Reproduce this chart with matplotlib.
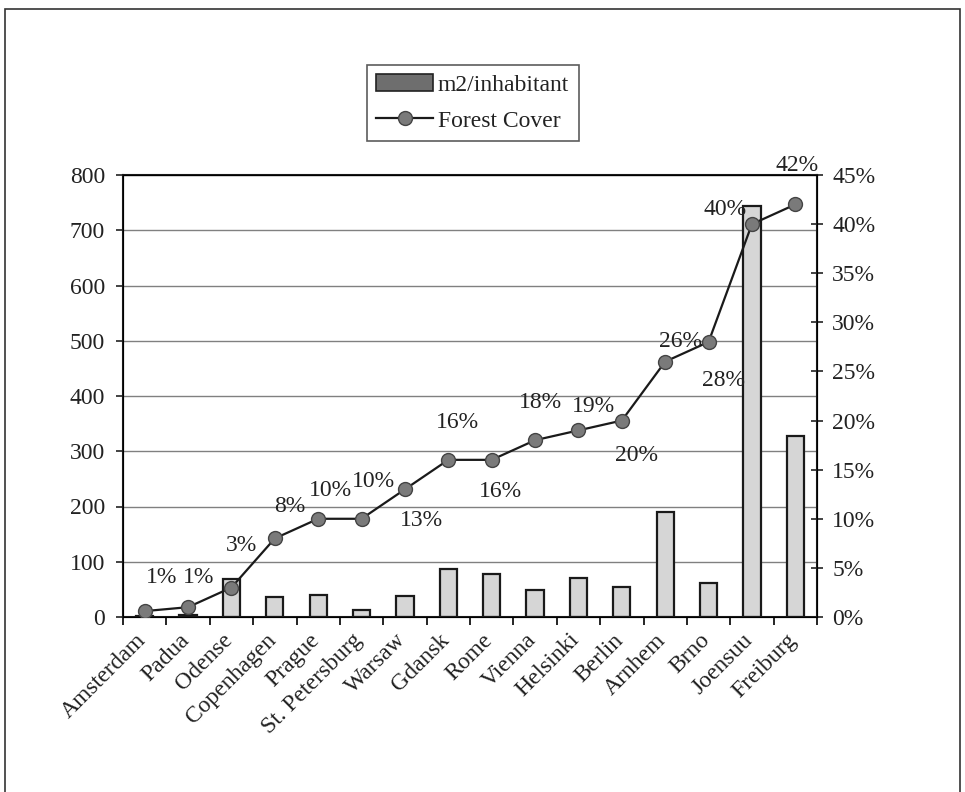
import matplotlib
matplotlib.use("Agg")
import matplotlib.pyplot as plt
from matplotlib.patches import Patch, Rectangle
from matplotlib.lines import Line2D
from matplotlib.ticker import FuncFormatter, FixedLocator

cities = ["Amsterdam", "Padua", "Odense", "Copenhagen", "Prague", "St. Petersburg",
          "Warsaw", "Gdansk", "Rome", "Vienna", "Helsinki", "Berlin", "Arnhem",
          "Brno", "Joensuu", "Freiburg"]
m2_per_inhabitant = [2, 3, 68, 37, 39, 12, 38, 86, 77, 48, 70, 55, 190, 62, 744, 327]
forest_cover = [0.6, 1.0, 3, 8, 10, 10, 13, 16, 16, 18, 19, 20, 26, 28, 40, 42]
forest_labels = ["1%", "1%", "3%", "8%", "10%", "10%", "13%", "16%", "16%", "18%",
                 "19%", "20%", "26%", "28%", "40%", "42%"]

# label offsets in pixels (dx, dy), dy positive = up
label_offsets = [(17, 34), (11, 30), (10, 42), (15, 32), (12, 28), (12, 37), (17, -31),
                 (9, 37), (9, -32), (5, 38), (15, 24), (15, -35), (15, 20), (15, -39),
                 (-27, 15), (2, 39)]

plt.rcParams["font.family"] = ["Liberation Serif", "DejaVu Serif"]
plt.rcParams["font.size"] = 17
txt = "#222222"

fig = plt.figure(figsize=(9.65, 7.92), dpi=100)
fig.patches.append(Rectangle((0.0052, -0.02), 0.9895, 1.0086, transform=fig.transFigure,
                             fill=False, edgecolor="#333333", linewidth=1.2))

ax = fig.add_axes([123 / 965, 1 - 617 / 792, (817 - 123) / 965, (617 - 175) / 792])
x = list(range(len(cities)))
ax.bar(x, m2_per_inhabitant, width=0.4, color="#d6d6d6", edgecolor="#1a1a1a",
       linewidth=1.6, zorder=2)
ax.set_xlim(-0.5, len(cities) - 0.5)
ax.set_ylim(0, 800)
ax.set_yticks(range(0, 801, 100))
ax.yaxis.grid(True, color="#808080", linewidth=1.0)
ax.set_axisbelow(True)
# labels anchored a little left of each category centre, like the original
ax.set_xticks([i - 0.22 for i in x])
ax.set_xticklabels(cities, rotation=45, ha="right", va="top", rotation_mode="anchor",
                   color=txt)
ax.tick_params(axis="x", which="major", length=0, pad=9)
ax.xaxis.set_minor_locator(FixedLocator([i - 0.5 for i in range(len(cities) + 1)]))
ax.tick_params(axis="x", which="minor", length=6, width=1.2, direction="out")
ax.tick_params(axis="y", length=5, width=1.2, direction="out", colors=txt, pad=8)
for s in ax.spines.values():
    s.set_linewidth(1.5)
    s.set_color("#1a1a1a")

ax2 = ax.twinx()
ax2.set_ylim(0, 45)
ax2.set_yticks(range(0, 46, 5))
ax2.yaxis.set_major_formatter(FuncFormatter(lambda v, p: "%d%%" % v))
ax2.tick_params(axis="y", length=8, width=1.2, direction="inout", colors=txt, pad=7)
ax2.plot(x, forest_cover, color="#1a1a1a", linewidth=1.6, marker="o", markersize=10,
         markerfacecolor="#7a7a7a", markeredgecolor="#444444", markeredgewidth=1.0,
         zorder=3)
for xi, yi, lab, (dx, dy) in zip(x, forest_cover, forest_labels, label_offsets):
    ax2.annotate(lab, (xi, yi), xytext=(dx, dy), textcoords="offset pixels",
                 ha="center", va="center", color=txt, fontsize=17,
                 annotation_clip=False)

handles = [Patch(facecolor="#6e6e6e", edgecolor="#222222", linewidth=1.2),
           Line2D([], [], color="#1a1a1a", linewidth=1.6, marker="o", markersize=10,
                  markerfacecolor="#7a7a7a", markeredgecolor="#444444")]
leg = fig.legend(handles, ["m2/inhabitant", "Forest Cover"], loc="upper left",
                 bbox_to_anchor=(367 / 965, 1 - 65 / 792), borderaxespad=0,
                 frameon=True, fancybox=False,
                 edgecolor="#333333", handlelength=2.4, handletextpad=0.2,
                 labelspacing=0.6, borderpad=0.4, fontsize=17)
leg.get_frame().set_linewidth(1.2)
for t in leg.get_texts():
    t.set_color(txt)

fig.savefig("out.png", dpi=100)
